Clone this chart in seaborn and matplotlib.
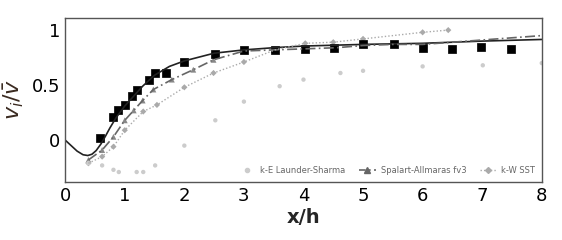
import numpy as np
import pandas as pd
import matplotlib
matplotlib.use("Agg")
import matplotlib.pyplot as plt
import seaborn as sns
from matplotlib.lines import Line2D

# Experimental data (black squares)
exp_x = [0.59, 0.81, 0.89, 1.0, 1.12, 1.2, 1.41, 1.5, 1.7, 2.0, 2.52, 3.0, 3.52, 4.03, 4.51, 5.0, 5.52, 6.0, 6.5, 6.98, 7.48]
exp_y = [0.02, 0.21, 0.27, 0.32, 0.40, 0.46, 0.55, 0.61, 0.61, 0.71, 0.78, 0.82, 0.82, 0.83, 0.84, 0.87, 0.87, 0.84, 0.83, 0.85, 0.83]

# Solid black line
sol_x = [0.0, 0.1, 0.2, 0.3, 0.38, 0.45, 0.52, 0.6, 0.68, 0.75, 0.85, 1.0, 1.15, 1.3, 1.5, 1.75, 2.0, 2.5, 3.0, 3.5, 4.0, 5.0, 6.0, 7.0, 8.0]
sol_y = [0.0, -0.05, -0.10, -0.133, -0.14, -0.128, -0.095, -0.035, 0.04, 0.11, 0.20, 0.31, 0.40, 0.49, 0.59, 0.67, 0.72, 0.79, 0.82, 0.84, 0.855, 0.87, 0.88, 0.90, 0.915]

# Spalart-Allmaras fv3
sa_x = [0.39, 0.62, 0.81, 1.0, 1.15, 1.3, 1.48, 1.79, 2.15, 2.49, 3.0, 3.5, 4.03, 4.56, 5.0, 5.5, 6.0, 6.5, 7.0, 7.5, 8.0]
sa_y = [-0.18, -0.09, 0.03, 0.18, 0.27, 0.36, 0.46, 0.55, 0.64, 0.73, 0.81, 0.82, 0.83, 0.84, 0.86, 0.87, 0.87, 0.89, 0.91, 0.93, 0.95]

# k-W SST
sst_x = [0.39, 0.62, 0.81, 1.0, 1.31, 1.54, 2.0, 2.49, 3.0, 3.52, 4.03, 4.5, 5.0, 6.0, 6.43]
sst_y = [-0.21, -0.15, -0.06, 0.09, 0.26, 0.32, 0.48, 0.61, 0.71, 0.82, 0.88, 0.89, 0.92, 0.98, 1.0]

# k-E Launder-Sharma
ke_x = [0.39, 0.62, 0.81, 0.9, 1.2, 1.31, 1.51, 2.0, 2.52, 3.0, 3.6, 4.0, 4.62, 5.0, 6.0, 7.01, 8.0]
ke_y = [-0.21, -0.23, -0.27, -0.29, -0.29, -0.29, -0.23, -0.05, 0.18, 0.35, 0.49, 0.55, 0.61, 0.63, 0.67, 0.68, 0.70]

x_ticks = [0, 1, 2, 3, 4, 5, 6, 7, 8]
y_ticks = [0, 0.5, 1]
y_tick_labels = ["0", "0.5", "1"]
legend_labels = ["k-E Launder-Sharma", "Spalart-Allmaras fv3", "k-W SST"]

sns.set_theme(style="white")
plt.rcParams['font.family'] = ['DejaVu Sans']

fig = plt.figure(figsize=(5.62, 2.4), dpi=100)
ax = fig.add_axes([0.116, 0.242, 0.848, 0.683])

sns.lineplot(x=sol_x, y=sol_y, ax=ax, color="#222222", lw=1.2, sort=False)
sns.lineplot(x=sa_x, y=sa_y, ax=ax, color="#666666", lw=1.2, sort=False)
ax.lines[-1].set_linestyle((0, (6, 2, 1, 2)))
sns.scatterplot(x=sa_x[:12], y=sa_y[:12], ax=ax, color="#888888", marker="^", s=18, edgecolor="none")
sns.lineplot(x=sst_x, y=sst_y, ax=ax, color="#aaaaaa", lw=1.0, sort=False)
ax.lines[-1].set_linestyle((0, (1, 1.5)))
sns.scatterplot(x=sst_x, y=sst_y, ax=ax, color="#aaaaaa", marker="D", s=10, edgecolor="none")
sns.scatterplot(x=ke_x, y=ke_y, ax=ax, color="#cccccc", marker="o", s=10, edgecolor="none")
sns.scatterplot(x=exp_x, y=exp_y, ax=ax, color="black", marker="s", s=40, edgecolor="black")

ax.set_xlim(0, 8)
ax.set_ylim(-0.38, 1.11)
ax.set_xticks(x_ticks)
ax.set_yticks(y_ticks)
ax.set_yticklabels(y_tick_labels)
ax.tick_params(direction="in", length=4, labelsize=13, colors="black", width=0.8)
for s in ax.spines.values():
    s.set_color("#555555")
    s.set_linewidth(1.0)

ax.set_xlabel("x/h", fontsize=14, fontweight="bold", labelpad=2)
ax.set_ylabel(r"$v_i/\bar{v}$", fontsize=16, color="#3a2a20", labelpad=4)

handles = [
    Line2D([], [], color="#cccccc", marker="o", ms=3, lw=0),
    Line2D([], [], color="#666666", marker="^", ms=4, lw=1.2, linestyle=(0, (4, 2, 1, 2))),
    Line2D([], [], color="#aaaaaa", marker="D", ms=3, lw=1.0, linestyle=(0, (1, 1.5))),
]
ax.legend(handles, legend_labels, loc="lower right", ncol=3, frameon=False, fontsize=6,
          handlelength=2.0, columnspacing=1.6, handletextpad=0.6,
          borderaxespad=0.4, labelcolor="#666666")

fig.savefig("out.png", dpi=100)
